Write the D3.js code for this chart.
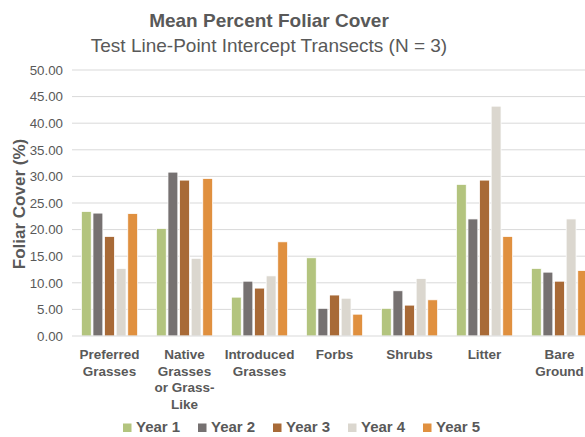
<!DOCTYPE html>
<html>
<head>
<meta charset="utf-8">
<script src="https://cdn.jsdelivr.net/npm/d3@7"></script>
<style>
  html, body { margin: 0; padding: 0; background: #fff; }
  svg { display: block; font-family: "Liberation Sans", Arial, sans-serif; }
</style>
</head>
<body>
<svg id="chart" width="585" height="437"></svg>
<script>
// Cover classes (x categories), each split onto lines for the axis labels
const categories = ["Preferred Grasses", "Native Grasses or Grass-Like", "Introduced Grasses", "Forbs", "Shrubs", "Litter", "Bare Ground"];
const categoryLines = [["Preferred", "Grasses"], ["Native", "Grasses", "or Grass-", "Like"], ["Introduced", "Grasses"], ["Forbs"], ["Shrubs"], ["Litter"], ["Bare", "Ground"]];

// Mean foliar cover (%) per year, one value per category
const years = ["Year 1", "Year 2", "Year 3", "Year 4", "Year 5"];
const year1 = [23.4, 20.2, 7.3, 14.7, 5.2, 28.5, 12.7];
const year2 = [23.1, 30.8, 10.3, 5.2, 8.5, 22.0, 12.0];
const year3 = [18.7, 29.3, 9.0, 7.7, 5.8, 29.3, 10.3];
const year4 = [12.7, 14.6, 11.3, 7.1, 10.8, 43.2, 22.0];
const year5 = [23.0, 29.6, 17.7, 4.1, 6.8, 18.7, 12.3];
const seriesValues = [year1, year2, year3, year4, year5];

const yTicks = [0, 5, 10, 15, 20, 25, 30, 35, 40, 45, 50];
const colors = ["#b3c47e", "#767171", "#a86a37", "#dbd7cf", "#e0903f"];

const svg = d3.select("#chart");
const textColor = "#595959";
const margin = { left: 72, top: 70, bottom: 336 };
const step = 75;

const x0 = d3.scaleBand()
  .domain(categories)
  .range([margin.left, margin.left + step * categories.length])
  .paddingInner(0.25)
  .paddingOuter(0.125);

const x1 = d3.scaleBand()
  .domain(years)
  .range([0, x0.bandwidth()])
  .paddingInner(0.15);

const y = d3.scaleLinear().domain([0, 50]).range([margin.bottom, margin.top]);

// Horizontal gridlines
svg.append("g")
  .selectAll("line")
  .data(yTicks.slice(1))
  .join("line")
  .attr("x1", margin.left)
  .attr("x2", 585)
  .attr("y1", d => y(d))
  .attr("y2", d => y(d))
  .attr("stroke", "#d9d9d9")
  .attr("stroke-width", 1);

// Y axis tick labels
const yAxis = d3.axisLeft(y).tickValues(yTicks).tickFormat(d3.format(".2f")).tickSize(0).tickPadding(9);
const yG = svg.append("g").attr("transform", `translate(${margin.left},0)`).call(yAxis);
yG.select(".domain").remove();
yG.selectAll("text")
  .attr("fill", textColor)
  .attr("font-size", 13.3)
  .attr("font-family", "Liberation Sans, Arial, sans-serif");

// Bars
const groups = svg.append("g")
  .selectAll("g")
  .data(categories)
  .join("g")
  .attr("transform", d => `translate(${x0(d)},0)`);

groups.selectAll("rect")
  .data((c, ci) => years.map((yr, si) => ({ yr, si, v: seriesValues[si][ci] })))
  .join("rect")
  .attr("x", d => x1(d.yr))
  .attr("width", x1.bandwidth())
  .attr("y", d => y(d.v))
  .attr("height", d => y(0) - y(d.v))
  .attr("fill", d => colors[d.si])
  .attr("stroke", "#fff")
  .attr("stroke-width", 0.75);

// Baseline
svg.append("line")
  .attr("x1", margin.left)
  .attr("x2", 585)
  .attr("y1", y(0))
  .attr("y2", y(0))
  .attr("stroke", "#d9d9d9")
  .attr("stroke-width", 1);

// Category labels
const xl = svg.append("g");
categories.forEach((c, i) => {
  const t = xl.append("text")
    .attr("x", x0(c) + x0.bandwidth() / 2)
    .attr("y", 359)
    .attr("text-anchor", "middle")
    .attr("fill", textColor)
    .attr("font-size", 13.5)
    .attr("font-weight", "bold");
  categoryLines[i].forEach((ln, li) => {
    t.append("tspan")
      .attr("x", x0(c) + x0.bandwidth() / 2)
      .attr("dy", li === 0 ? 0 : 16.5)
      .text(ln);
  });
});

// Titles
svg.append("text")
  .attr("x", 269)
  .attr("y", 27)
  .attr("text-anchor", "middle")
  .attr("fill", textColor)
  .attr("font-size", 19)
  .attr("font-weight", "bold")
  .text("Mean Percent Foliar Cover");

svg.append("text")
  .attr("x", 269)
  .attr("y", 52)
  .attr("text-anchor", "middle")
  .attr("fill", textColor)
  .attr("font-size", 19)
  .text("Test Line-Point Intercept Transects (N = 3)");

// Y axis title
svg.append("text")
  .attr("transform", `translate(25,${(margin.top + margin.bottom) / 2 + 1}) rotate(-90)`)
  .attr("text-anchor", "middle")
  .attr("fill", textColor)
  .attr("font-size", 17)
  .attr("font-weight", "bold")
  .text("Foliar Cover (%)");

// Legend
const legend = svg.append("g").attr("transform", "translate(123,432)");
years.forEach((yr, i) => {
  const g = legend.append("g").attr("transform", `translate(${i * 75},0)`);
  g.append("rect")
    .attr("x", 0)
    .attr("y", -8.5)
    .attr("width", 8.5)
    .attr("height", 8.5)
    .attr("fill", colors[i]);
  g.append("text")
    .attr("x", 13)
    .attr("y", 0)
    .attr("fill", textColor)
    .attr("font-size", 15)
    .attr("font-weight", "bold")
    .text(yr);
});
</script>
</body>
</html>
